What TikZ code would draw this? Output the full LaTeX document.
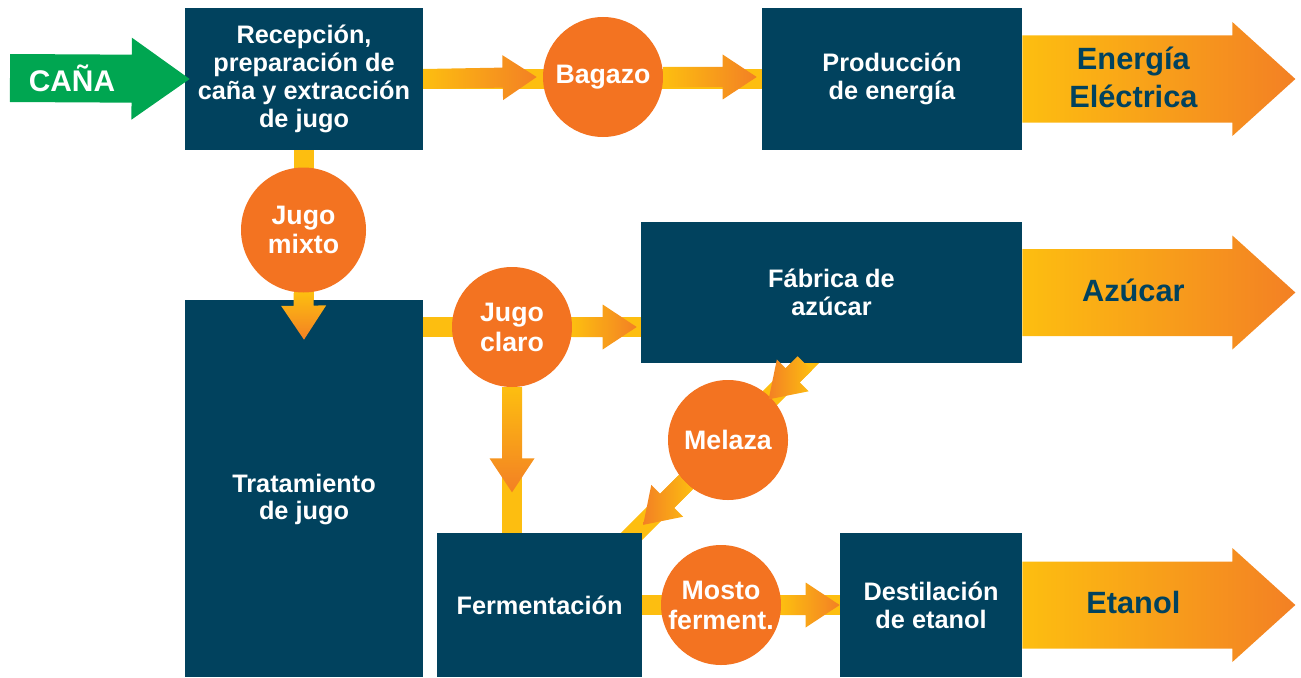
\documentclass[tikz,border=0pt]{standalone}
\usepackage{fontspec}
\setmainfont{Liberation Sans}
\usetikzlibrary{calc,backgrounds}

\definecolor{navy}{RGB}{1,66,94}
\definecolor{og}{RGB}{243,115,33}
\definecolor{yl}{RGB}{253,190,16}
\definecolor{ag}{RGB}{243,128,36}
\definecolor{gn}{RGB}{0,166,81}

% shaded block arrow: #1 paint, #2 from, #3 to, #4 half shaft, #5 half head, #6 head length
\newcommand{\flowarrow}[6]{%
  \coordinate (ga) at (#2);
  \coordinate (gb) at (#3);
  \coordinate (gh) at ($(gb)!#6!(ga)$);
  \path[#1] ($(ga)!#4!90:(gb)$) -- ($(gh)!#4!-90:(ga)$) -- ($(gh)!#5!-90:(ga)$) -- (gb)
    -- ($(gh)!#5!90:(ga)$) -- ($(gh)!#4!90:(ga)$) -- ($(ga)!#4!-90:(gb)$) -- cycle;
}

\begin{document}
\begin{tikzpicture}[
    box/.style={rectangle, fill=navy, text=white, inner sep=0pt, align=center, font=\bfseries\fontsize{14.4}{15.9}\selectfont},
    blob/.style={circle, fill=og, text=white, inner sep=0pt, minimum size=2.4cm, align=center, font=\bfseries\fontsize{15.2}{17}\selectfont},
    band/.style={yl, line width=0.4cm},
    outlbl/.style={text=navy, align=center, font=\bfseries\fontsize{17.5}{21.5}\selectfont},
    hgrad/.style={left color=yl, right color=ag},
    vgrad/.style={top color=yl, bottom color=ag},
    dgrad/.style={left color=ag, right color=yl}
]
    \useasboundingbox (0,0) rectangle (26.02,-13.54);

    % process boxes
    \node[box, minimum width=4.76cm, minimum height=2.84cm] (recep) at (6.08,-1.58) {Recepción,\\preparación de\\caña y extracción\\de jugo};
    \node[box, minimum width=5.20cm, minimum height=2.84cm] (prodE) at (17.84,-1.58) {Producción\\de energía};
    \node[box, minimum width=4.76cm, minimum height=7.54cm] (trat) at (6.08,-9.77) {};
    \node[box, fill=none] (tratlbl) at ($(trat)+(0,-0.22)$) {Tratamiento\\de jugo};
    \node[box, minimum width=7.62cm, minimum height=2.82cm] (fabrica) at (16.63,-5.85) {Fábrica de\\azúcar};
    \node[box, minimum width=4.10cm, minimum height=2.88cm] (ferm) at (10.79,-12.10) {Fermentación};
    \node[box, minimum width=3.64cm, minimum height=2.88cm] (destil) at (18.62,-12.10) {Destilación\\de etanol};

    % intermediate products
    \node[blob] (bagazo) at (12.06,-1.54) {Bagazo};
    \node[blob, minimum size=2.5cm] (mixto) at (6.07,-4.6) {Jugo\\mixto};
    \node[blob] (claro) at (10.24,-6.54) {Jugo\\claro};
    \node[blob] (melaza) at (14.56,-8.80) {Melaza};
    \node[blob] (mosto) at (14.42,-12.10) {Mosto\\ferment.};

    \coordinate (dtop) at ($(melaza)+(2,2)$);
    \coordinate (dbot) at ($(melaza)+(-2.1,-2.1)$);
    \coordinate (m1) at (intersection of melaza--dtop and fabrica.south west--fabrica.south east);
    \coordinate (canain) at (0.2,-1.56);

    % yellow flow bands
    \begin{scope}[on background layer]
        \draw[band] (recep.east) -- (prodE.west);
        \draw[band] (recep.south) -- (trat.north);
        \draw[band] (trat.east |- claro) -- (fabrica.west |- claro);
        \draw[band] (claro) -- (claro |- ferm.north);
        \draw[band] (dtop) -- (dbot);
        \draw[band] (ferm.east) -- (destil.west);
    \end{scope}

    % arrows
    \flowarrow{fill=gn}{canain}{$(recep.west)+(0.1,0)$}{0.48cm}{0.82cm}{1.16cm}
    \flowarrow{hgrad}{recep.east}{$(bagazo.west)+(-0.12,0)$}{0.2cm}{0.45cm}{0.68cm}
    \flowarrow{hgrad}{bagazo.east}{$(prodE.west |- bagazo)+(-0.1,0)$}{0.2cm}{0.45cm}{0.68cm}
    \flowarrow{vgrad}{mixto.south}{$(trat.north)+(0,-0.8)$}{0.2cm}{0.45cm}{0.68cm}
    \flowarrow{hgrad}{claro.east}{$(fabrica.west |- claro)+(-0.08,0)$}{0.2cm}{0.45cm}{0.68cm}
    \flowarrow{vgrad}{claro.south}{$(claro.south)+(0,-2.1)$}{0.2cm}{0.45cm}{0.68cm}
    \flowarrow{dgrad}{m1}{$(melaza)!1.15cm!(dtop)$}{0.2cm}{0.45cm}{0.68cm}
    \flowarrow{dgrad}{$(melaza)!1.2cm!(dbot)$}{$(melaza)!2.4cm!(dbot)$}{0.2cm}{0.45cm}{0.68cm}
    \flowarrow{hgrad}{mosto.east}{destil.west |- mosto}{0.2cm}{0.45cm}{0.68cm}

    % outputs
    \flowarrow{hgrad}{prodE.east}{$(prodE.east)+(5.46,0)$}{0.87cm}{1.14cm}{1.26cm}
    \flowarrow{hgrad}{fabrica.east}{$(fabrica.east)+(5.46,0)$}{0.87cm}{1.14cm}{1.26cm}
    \flowarrow{hgrad}{destil.east}{$(destil.east)+(5.46,0)$}{0.87cm}{1.14cm}{1.26cm}

    \node[outlbl] (energia) at ($(prodE.east)+(2.22,0.04)$) {Energía\\Eléctrica};
    \node[outlbl] (azucar) at ($(fabrica.east)+(2.22,0.04)$) {Azúcar};
    \node[outlbl] (etanol) at ($(destil.east)+(2.22,0.06)$) {Etanol};
    \node[text=white, font=\bfseries\fontsize{17}{20}\selectfont] (cana) at (1.44,-1.56) {CAÑA};
\end{tikzpicture}
\end{document}
